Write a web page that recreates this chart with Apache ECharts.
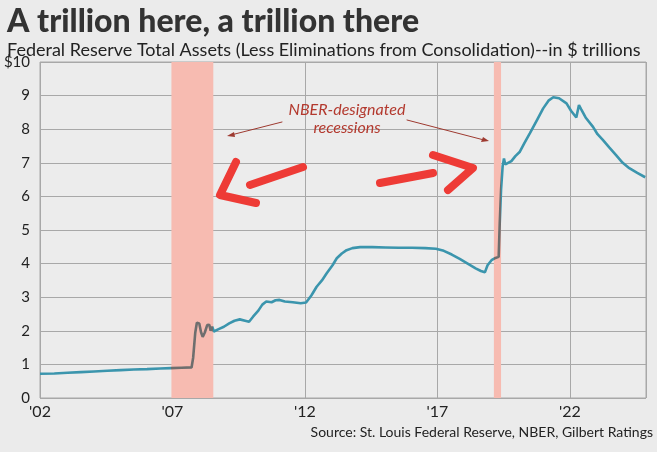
<!DOCTYPE html>
<html>
<head>
<meta charset="utf-8">
<script src="https://cdn.jsdelivr.net/npm/echarts@6/dist/echarts.min.js"></script>
<style>
  html, body { margin: 0; padding: 0; background: #ebebeb; }
  #chart { width: 657px; height: 452px; }
</style>
</head>
<body>
<div id="chart"></div>
<script>
// Fed total assets, $ trillions, by decimal year
var years = [
  2002.96, 2003.5, 2004.0, 2004.5, 2005.0, 2005.5, 2006.0, 2006.5, 2007.0, 2007.5,
  2007.9, 2008.3, 2008.68, 2008.74, 2008.82, 2008.88, 2008.97, 2009.04, 2009.1, 2009.18,
  2009.27, 2009.35, 2009.4, 2009.46, 2009.52, 2009.7, 2009.9, 2010.1, 2010.3, 2010.5,
  2010.7, 2010.85, 2011.0, 2011.2, 2011.35, 2011.5, 2011.7, 2011.85, 2012.0, 2012.2,
  2012.5, 2012.8, 2013.0, 2013.2, 2013.4, 2013.6, 2013.78, 2014.0, 2014.16, 2014.35,
  2014.53, 2014.75, 2015.04, 2015.5, 2016.0, 2016.5, 2017.0, 2017.5, 2017.9, 2018.2,
  2018.5, 2018.8, 2019.1, 2019.4, 2019.6, 2019.75, 2019.85, 2020.0, 2020.15, 2020.27,
  2020.31, 2020.36, 2020.42, 2020.47, 2020.52, 2020.58, 2020.75, 2020.9, 2021.07, 2021.25,
  2021.45, 2021.7, 2021.95, 2022.15, 2022.33, 2022.55, 2022.83, 2023.0, 2023.2, 2023.24,
  2023.3, 2023.38, 2023.55, 2023.83, 2024.0, 2024.2, 2024.45, 2024.7, 2024.95, 2025.2,
  2025.5, 2025.8
];
var assets = [
  0.72, 0.73, 0.75, 0.77, 0.79, 0.81, 0.83, 0.85, 0.86, 0.88,
  0.89, 0.90, 0.91, 1.20, 1.95, 2.24, 2.22, 1.95, 1.82, 1.95,
  2.17, 2.18, 2.00, 2.12, 1.98, 2.05, 2.12, 2.22, 2.30, 2.34,
  2.30, 2.27, 2.42, 2.60, 2.78, 2.87, 2.85, 2.91, 2.92, 2.87,
  2.85, 2.82, 2.84, 3.05, 3.31, 3.50, 3.71, 3.95, 4.16, 4.30,
  4.40, 4.46, 4.49, 4.49, 4.48, 4.47, 4.47, 4.46, 4.44, 4.38,
  4.27, 4.14, 4.00, 3.86, 3.78, 3.74, 3.95, 4.10, 4.17, 4.20,
  5.20, 6.20, 6.90, 7.13, 6.95, 6.98, 7.05, 7.20, 7.33, 7.60,
  7.88, 8.25, 8.62, 8.85, 8.95, 8.92, 8.77, 8.55, 8.35, 8.32,
  8.72, 8.60, 8.35, 8.07, 7.85, 7.68, 7.45, 7.23, 7.00, 6.84,
  6.70, 6.57
];
var recessionStart = [2007.92, 2020.09];
var recessionEnd = [2009.50, 2020.36];
var yTicks = [0, 1, 2, 3, 4, 5, 6, 7, 8, 9, 10];

var xMin = 2002.96, xMax = 2025.83;

var chart = echarts.init(document.getElementById('chart'));

var lineData = years.map(function (y, i) { return [y, assets[i]]; });
var bands = recessionStart.map(function (s, i) {
  return [{ xAxis: s }, { xAxis: recessionEnd[i] }];
});
var grayPieces = recessionStart.map(function (s, i) {
  return { gte: s, lte: recessionEnd[i], color: '#6e6e6e' };
});

var red = '#ee3b36';
function stroke(points, w, c) {
  return {
    type: 'polyline', z: 100,
    shape: { points: points },
    style: { stroke: c, lineWidth: w, fill: null, lineCap: 'round', lineJoin: 'round' }
  };
}

option = {
  backgroundColor: '#ebebeb',
  textStyle: { fontFamily: 'Lato' },
  title: {
    text: 'A trillion here, a trillion there',
    subtext: 'Federal Reserve Total Assets (Less Eliminations from Consolidation)--in $ trillions',
    left: 2, top: 1, itemGap: 3,
    textStyle: { fontFamily: 'Lato', fontWeight: 900, fontSize: 32, color: '#333333' },
    subtextStyle: { fontFamily: 'Lato', fontSize: 18, color: '#222222' }
  },
  grid: {
    left: 40, right: 11, top: 62, bottom: 54,
    show: true, backgroundColor: '#ececec', borderColor: '#a8a8a8', borderWidth: 1
  },
  visualMap: {
    show: false, type: 'piecewise', dimension: 0, seriesIndex: 1,
    pieces: grayPieces,
    outOfRange: { color: '#3b95ad' }
  },
  xAxis: {
    type: 'value', min: xMin, max: xMax, interval: 5,
    axisLine: { show: false }, axisTick: { show: false },
    splitLine: { show: true, lineStyle: { color: '#a8a8a8', width: 1 } },
    axisLabel: {
      fontSize: 16, color: '#222', margin: 6,
      showMaxLabel: false,
      formatter: function (v) {
        var k = Math.round((v - xMin) / 5);
        if (Math.abs(v - xMin - k * 5) > 0.05) return '';
        var yr = Math.floor(v) % 100;
        return "'" + (yr < 10 ? '0' + yr : yr);
      }
    }
  },
  yAxis: {
    type: 'value', min: yTicks[0], max: yTicks[yTicks.length - 1], interval: 1,
    axisLine: { show: false }, axisTick: { show: false },
    splitLine: { show: true, lineStyle: { color: '#a8a8a8', width: 1 } },
    axisLabel: {
      fontSize: 15, color: '#222', margin: 10,
      formatter: function (v) { return v === 10 ? '$10' : String(v); }
    }
  },
  series: [
    {
      type: 'line', data: [], z: 1, silent: true,
      markArea: {
        silent: true,
        itemStyle: { color: '#f7bbb1', opacity: 1 },
        data: bands
      }
    },
    {
      name: 'Total assets', type: 'line', data: lineData, z: 3,
      showSymbol: false, smooth: false,
      lineStyle: { width: 2.6 }
    }
  ],
  graphic: [
    {
      type: 'text', z: 100, x: 347, y: 110,
      style: {
        text: 'NBER-designated', fontFamily: 'Lato', fontStyle: 'italic',
        fontSize: 16, fill: '#b3392e', align: 'center', verticalAlign: 'middle'
      }
    },
    {
      type: 'text', z: 100, x: 347, y: 128,
      style: {
        text: 'recessions', fontFamily: 'Lato', fontStyle: 'italic',
        fontSize: 16, fill: '#b3392e', align: 'center', verticalAlign: 'middle'
      }
    },
    stroke([[282, 122], [231, 135]], 1, '#9e3a30'),
    { type: 'polygon', z: 100, shape: { points: [[227, 136], [234, 132], [235, 137]] }, style: { fill: '#9e3a30' } },
    stroke([[407, 120], [484, 140]], 1, '#9e3a30'),
    { type: 'polygon', z: 100, shape: { points: [[489, 141], [481, 142], [483, 137]] }, style: { fill: '#9e3a30' } },
    stroke([[303, 167], [250, 185]], 8, red),
    stroke([[236, 162], [220, 195], [256, 203]], 8, red),
    stroke([[380, 183], [433, 173]], 8, red),
    stroke([[433, 155], [473, 168], [448, 190]], 8, red),
    {
      type: 'text', z: 100, x: 653, y: 432,
      style: {
        text: 'Source: St. Louis Federal Reserve, NBER, Gilbert Ratings',
        fontFamily: 'Lato', fontSize: 14, fill: '#222', align: 'right', verticalAlign: 'middle'
      }
    }
  ]
};

chart.setOption(option);
</script>
</body>
</html>
